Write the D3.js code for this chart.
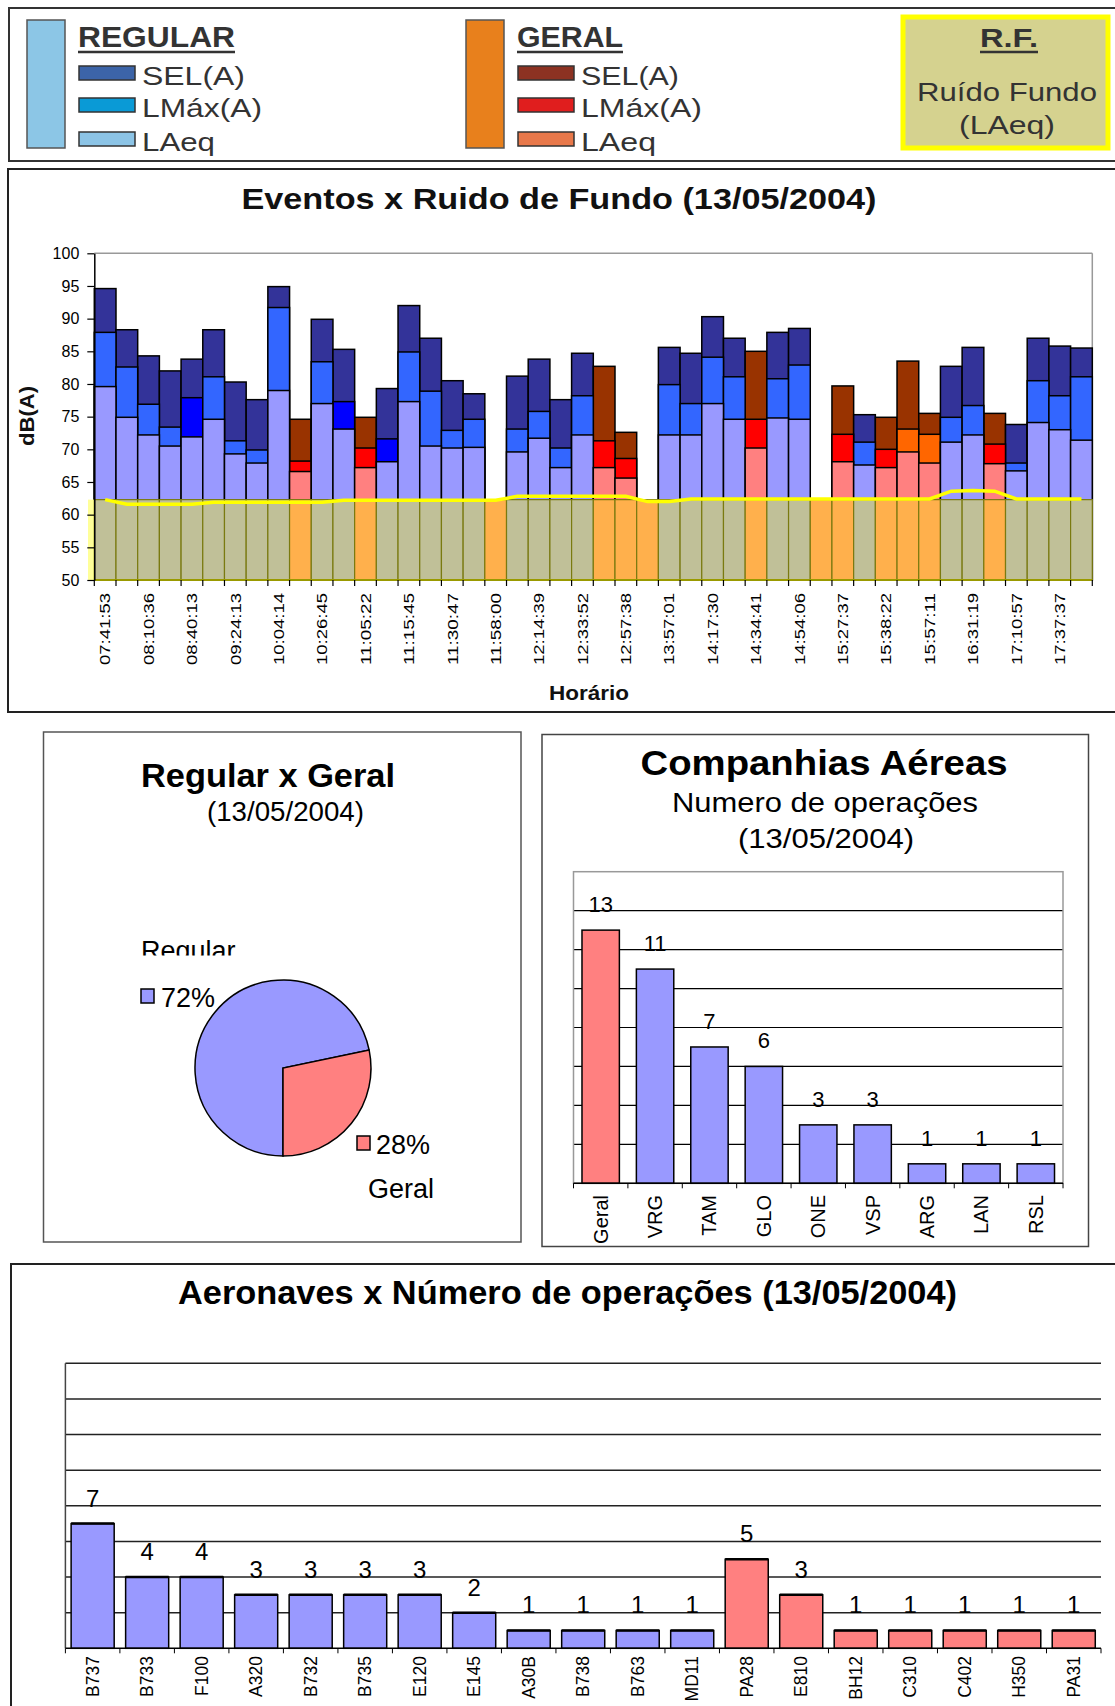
<!DOCTYPE html>
<html><head><meta charset="utf-8">
<script src="https://cdn.jsdelivr.net/npm/d3@7"></script>
<style>body{margin:0;background:#fff}svg{display:block}text{font-family:"Liberation Sans",Arial,Helvetica,sans-serif}</style>
</head><body><svg id="c" width="1115" height="1706"></svg>
<script>
// ---------- DATA ----------
// tick labels (shown on every other event)
const horarios = ["07:41:53","08:10:36","08:40:13","09:24:13","10:04:14","10:26:45","11:05:22","11:15:45","11:30:47","11:58:00","12:14:39","12:33:52","12:57:38","13:57:01","14:17:30","14:34:41","14:54:06","15:27:37","15:38:22","15:57:11","16:31:19","17:10:57","17:37:37"];
// event type: R regular, R2 regular (alt LMax), G geral, G2 geral (alt LMax), X geral without measurement
const tipoEvento = ["R","R","R","R","R2","R","R","R","R","G","R","R2","G","R2","R","R","R","R","X","R","R","R","R","G","G","X","R","R","R","R","G","R","R","X","G","R","G","G2","G2","R","R","G","R","R","R","R"];
const selA  = [94.6,88.3,84.3,82.0,83.8,88.3,80.3,77.6,94.9,74.6,89.9,85.3,74.9,79.3,92.0,87.0,80.5,78.5,null,81.2,83.8,77.6,84.7,82.7,72.6,null,85.6,84.7,90.3,87.0,85.0,87.9,88.5,null,79.7,75.3,74.9,83.5,75.5,82.7,85.6,75.5,73.8,87.0,85.8,85.5];
const lmaxA = [87.9,82.6,76.9,73.4,77.9,81.1,71.3,69.9,91.7,68.2,83.4,77.3,70.2,71.6,84.9,78.9,72.9,74.6,null,73.1,75.8,70.2,78.2,71.3,68.6,null,79.9,77.0,84.1,81.1,74.6,80.8,82.9,null,72.3,71.1,70.0,73.1,72.3,74.9,76.7,70.8,67.9,80.5,78.2,81.1];
const laeqA = [79.6,74.9,72.2,70.5,71.9,74.6,69.3,67.9,79.0,66.6,77.0,73.1,67.2,68.1,77.3,70.5,70.2,70.3,null,69.6,71.7,67.2,72.2,67.2,65.6,null,72.2,72.2,77.0,74.6,70.2,74.8,74.6,null,68.1,67.6,67.2,69.6,67.9,71.1,72.2,67.8,66.7,74.1,73.0,71.4];
const ruidoFundo = [62.3,61.6,61.6,61.6,61.6,61.9,61.9,61.9,61.9,61.9,61.9,62.2,62.2,62.2,62.2,62.2,62.2,62.2,62.2,62.8,62.8,62.8,62.8,62.8,62.8,62.0,62.0,62.4,62.4,62.4,62.4,62.4,62.4,62.4,62.4,62.4,62.4,62.4,62.4,63.6,63.7,63.6,62.4,62.4,62.4,62.4];
const nivelFundoArea = 62.3;
const yTicksEventos = [50,55,60,65,70,75,80,85,90,95,100];

const pieCats = ["Regular","Geral"];
const pieVals = [33,13];
const pieLabels = ["72%","28%"];

const companhias = ["Geral","VRG","TAM","GLO","ONE","VSP","ARG","LAN","RSL"];
const companhiasOps = [13,11,7,6,3,3,1,1,1];
const companhiasTipo = ["G","R","R","R","R","R","R","R","R"];

const aeronaves = ["B737","B733","F100","A320","B732","B735","E120","E145","A30B","B738","B763","MD11","PA28","E810","BH12","C310","C402","H350","PA31"];
const aeronavesOps = [7,4,4,3,3,3,3,2,1,1,1,1,5,3,1,1,1,1,1];
const aeronavesTipo = ["R","R","R","R","R","R","R","R","R","R","R","R","G","G","G","G","G","G","G"];
const opsTicks = [0,2,4,6,8,10,12,14,16];

const legRegular = ["SEL(A)","LMáx(A)","LAeq"];
const legGeral = ["SEL(A)","LMáx(A)","LAeq"];

// ---------- HELPERS ----------
const svg = d3.select("#c");
function txt(g, s, x, y, o = {}) {
  const t = g.append("text").attr("x", x).attr("y", y).text(s)
    .attr("font-size", o.size || 16).attr("font-weight", o.bold ? "bold" : "normal")
    .attr("text-anchor", o.anchor || "start").attr("fill", o.fill || "#000");
  if (o.len) t.attr("textLength", o.len).attr("lengthAdjust", "spacingAndGlyphs");
  if (o.rot) t.attr("transform", `rotate(${o.rot},${x},${y})`);
  return t;
}
function box(x, y, w, h, stroke, sw) {
  svg.append("rect").attr("x", x).attr("y", y).attr("width", w).attr("height", h)
    .attr("fill", "none").attr("stroke", stroke).attr("stroke-width", sw);
}

// ---------- LEGEND ----------
const leg = svg.append("g");
box(9, 8, 1120, 153, "#333", 2);
const legColR = d3.scaleOrdinal().domain(legRegular.map((d, i) => i)).range(["#3c64a8", "#0a9ad6", "#8cc4e6"]);
const legColG = d3.scaleOrdinal().domain(legGeral.map((d, i) => i)).range(["#8c3222", "#e01e1e", "#e8784a"]);
const legY = [66, 98, 132];
function legendBlock(x0, title, titleLen, big, items, col, lens) {
  leg.append("rect").attr("x", x0 - 51).attr("y", 20).attr("width", 38).attr("height", 128)
    .attr("fill", big).attr("stroke", "#555").attr("stroke-width", 1.5);
  txt(leg, title, x0, 47, { size: 30, bold: true, len: titleLen, fill: "#333" });
  leg.append("line").attr("x1", x0).attr("x2", x0 + titleLen).attr("y1", 52).attr("y2", 52)
    .attr("stroke", "#333").attr("stroke-width", 2.5);
  items.forEach((s, i) => {
    leg.append("rect").attr("x", x0 + 1).attr("y", legY[i]).attr("width", 56).attr("height", 14)
      .attr("fill", col(i)).attr("stroke", "#333").attr("stroke-width", 1.5);
    txt(leg, s, x0 + 64, legY[i] + 19, { size: 26, len: lens[i], fill: "#333" });
  });
}
legendBlock(78, "REGULAR", 157, "#8cc6e6", legRegular, legColR, [103, 120, 73]);
legendBlock(517, "GERAL", 106, "#e8801c", legGeral, legColG, [98, 121, 75]);
leg.append("rect").attr("x", 903).attr("y", 17).attr("width", 205).attr("height", 131)
  .attr("fill", "#d5d28f").attr("stroke", "#ffff00").attr("stroke-width", 5);
txt(leg, "R.F.", 1009, 47, { size: 26, bold: true, anchor: "middle", len: 58, fill: "#333" });
leg.append("line").attr("x1", 980).attr("x2", 1038).attr("y1", 52).attr("y2", 52).attr("stroke", "#333").attr("stroke-width", 2.5);
txt(leg, "Ruído Fundo", 1007, 101, { size: 26, anchor: "middle", len: 180, fill: "#333" });
txt(leg, "(LAeq)", 1007, 134, { size: 26, anchor: "middle", len: 96, fill: "#333" });

// ---------- MAIN CHART ----------
box(8, 169, 1120, 543, "#222", 2);
const gm = svg.append("g");
txt(gm, "Eventos x Ruido de Fundo (13/05/2004)", 559, 209, { size: 30, bold: true, anchor: "middle", len: 635, fill: "#111" });
const xM = d3.scaleBand().domain(d3.range(tipoEvento.length)).range([94.3, 1092.3]).padding(0);
const yM = d3.scaleLinear().domain([50, 100]).range([580, 253.3]);
const isReg = t => t === "R" || t === "R2";
const colSEL = t => isReg(t) ? "#333399" : "#993300";
const colLMax = d3.scaleOrdinal().domain(["R", "R2", "G", "G2"]).range(["#3366ff", "#0000ff", "#ff0000", "#ff6600"]);
const colLAeq = t => isReg(t) ? "#9999ff" : "#ff8080";
const colBg = t => isReg(t) ? "#c0c098" : "#ffb04c";

// plot frame (top/right gray)
gm.append("line").attr("x1", 94.3).attr("x2", 1092.3).attr("y1", yM(100)).attr("y2", yM(100)).attr("stroke", "#999").attr("stroke-width", 1.5);
gm.append("line").attr("x1", 1092.3).attr("x2", 1092.3).attr("y1", yM(100)).attr("y2", yM(50)).attr("stroke", "#999").attr("stroke-width", 1.5);

const ev = d3.range(tipoEvento.length).filter(i => selA[i] != null);
[[selA, colSEL], [lmaxA, t => colLMax(t)], [laeqA, colLAeq]].forEach(([arr, cf]) => {
  gm.append("g").selectAll("rect").data(ev).join("rect")
    .attr("x", i => xM(i)).attr("width", xM.bandwidth())
    .attr("y", i => yM(arr[i])).attr("height", i => yM(50) - yM(arr[i]))
    .attr("fill", i => cf(tipoEvento[i])).attr("stroke", "#000").attr("stroke-width", 1.5);
});
// background noise area
gm.append("rect").attr("x", 88).attr("width", 6.3).attr("y", yM(nivelFundoArea)).attr("height", yM(50) - yM(nivelFundoArea)).attr("fill", "#ffff99");
gm.append("g").selectAll("rect").data(d3.range(tipoEvento.length)).join("rect")
  .attr("x", i => xM(i)).attr("width", xM.bandwidth())
  .attr("y", yM(nivelFundoArea)).attr("height", yM(50) - yM(nivelFundoArea))
  .attr("fill", i => colBg(tipoEvento[i])).attr("stroke", "#7a7a10").attr("stroke-width", 1.2);
gm.append("line").attr("x1", 94.3).attr("x2", 1092.3).attr("y1", yM(50)).attr("y2", yM(50)).attr("stroke", "#9a9a00").attr("stroke-width", 2);
// R.F. line
gm.append("path").datum(ruidoFundo)
  .attr("d", d3.line().x((d, i) => xM(i) + xM.bandwidth() / 2).y(d => yM(d)))
  .attr("fill", "none").attr("stroke", "#ffff00").attr("stroke-width", 3.5);
// y axis
const ay = gm.append("g").attr("transform", "translate(94.3,0)")
  .call(d3.axisLeft(yM).tickValues(yTicksEventos).tickSize(7).tickPadding(8).tickSizeOuter(0));
ay.select(".domain").attr("stroke", "#000").attr("stroke-width", 1.5);
ay.selectAll(".tick line").attr("stroke", "#000").attr("stroke-width", 1.2);
ay.selectAll(".tick text").attr("font-size", 16).attr("fill", "#000").attr("font-family", '"Liberation Sans",Arial,sans-serif');
// x ticks
gm.append("g").selectAll("line").data(d3.range(tipoEvento.length + 1)).join("line")
  .attr("x1", i => 94.3 + i * xM.step()).attr("x2", i => 94.3 + i * xM.step())
  .attr("y1", 580).attr("y2", 586).attr("stroke", "#000").attr("stroke-width", 1.2);
horarios.forEach((h, j) => {
  const xc = xM(j * 2) + xM.bandwidth() / 2;
  txt(gm, h, xc, 593, { size: 15, anchor: "end", len: 72, rot: -90 }).attr("dy", "0.35em");
});
txt(gm, "Horário", 589, 700, { size: 21, bold: true, anchor: "middle", len: 80, fill: "#111" });
txt(gm, "dB(A)", 34, 416, { size: 20, bold: true, anchor: "middle", len: 60, rot: -90, fill: "#111" });

// ---------- PIE ----------
box(43.5, 732, 477.5, 510, "#555", 1.5);
const gp = svg.append("g");
txt(gp, "Regular x Geral", 268, 787, { size: 34, bold: true, anchor: "middle", len: 254 });
txt(gp, "(13/05/2004)", 285.5, 821, { size: 27, anchor: "middle", len: 157 });
const pieCol = d3.scaleOrdinal().domain(pieCats).range(["#9999ff", "#ff8080"]);
const arcs = d3.pie().sort(null).startAngle(Math.PI).endAngle(3 * Math.PI)(pieVals);
gp.append("g").attr("transform", "translate(283,1068)").selectAll("path").data(arcs).join("path")
  .attr("d", d3.arc().innerRadius(0).outerRadius(88))
  .attr("fill", (d, i) => pieCol(pieCats[i])).attr("stroke", "#000").attr("stroke-width", 1.5);
svg.append("clipPath").attr("id", "clipReg").append("rect").attr("x", 100).attr("y", 900).attr("width", 300).attr("height", 55.5);
txt(gp, pieCats[0], 141, 959.5, { size: 27 }).attr("clip-path", "url(#clipReg)");
gp.append("rect").attr("x", 141).attr("y", 989).attr("width", 13).attr("height", 14).attr("fill", pieCol(pieCats[0])).attr("stroke", "#000").attr("stroke-width", 1.5);
txt(gp, pieLabels[0], 161, 1007, { size: 27 });
gp.append("rect").attr("x", 357).attr("y", 1136).attr("width", 13).attr("height", 14).attr("fill", pieCol(pieCats[1])).attr("stroke", "#000").attr("stroke-width", 1.5);
txt(gp, pieLabels[1], 376, 1154, { size: 27 });
txt(gp, pieCats[1], 368, 1198, { size: 27 });

// ---------- COMPANHIAS ----------
box(542, 734.5, 546.5, 512, "#444", 1.5);
const gc = svg.append("g");
txt(gc, "Companhias Aéreas", 824, 775, { size: 35, bold: true, anchor: "middle", len: 367 });
txt(gc, "Numero de operações", 825, 811.7, { size: 28, anchor: "middle", len: 306 });
txt(gc, "(13/05/2004)", 826, 848, { size: 28, anchor: "middle", len: 176 });
const xC = d3.scaleBand().domain(companhias).range([573.5, 1063]).paddingInner(0.3125).paddingOuter(0.156);
const yC = d3.scaleLinear().domain([0, 16]).range([1183.3, 871.7]);
gc.append("g").selectAll("line").data(opsTicks.filter(v => v > 0 && v < 16)).join("line")
  .attr("x1", 573.5).attr("x2", 1063).attr("y1", d => yC(d)).attr("y2", d => yC(d)).attr("stroke", "#000").attr("stroke-width", 1.2);
gc.append("rect").attr("x", 573.5).attr("y", yC(16)).attr("width", 1063 - 573.5).attr("height", yC(0) - yC(16)).attr("fill", "none").attr("stroke", "#999").attr("stroke-width", 1.5);
gc.append("g").selectAll("rect").data(companhias).join("rect")
  .attr("x", d => xC(d)).attr("width", xC.bandwidth())
  .attr("y", (d, i) => yC(companhiasOps[i])).attr("height", (d, i) => yC(0) - yC(companhiasOps[i]))
  .attr("fill", (d, i) => companhiasTipo[i] === "G" ? "#ff8080" : "#9999ff").attr("stroke", "#000").attr("stroke-width", 1.5);
gc.append("line").attr("x1", 573.5).attr("x2", 1063).attr("y1", yC(0)).attr("y2", yC(0)).attr("stroke", "#000").attr("stroke-width", 1.5);
gc.append("g").selectAll("line").data(d3.range(companhias.length + 1)).join("line")
  .attr("x1", i => 573.5 + i * xC.step()).attr("x2", i => 573.5 + i * xC.step())
  .attr("y1", yC(0)).attr("y2", yC(0) + 5).attr("stroke", "#000");
companhias.forEach((c, i) => {
  const xc = xC(c) + xC.bandwidth() / 2;
  txt(gc, String(companhiasOps[i]), xc, yC(companhiasOps[i]) - 18, { size: 22, anchor: "middle" });
  txt(gc, c, xc, 1195, { size: 20, anchor: "end", rot: -90 }).attr("dy", "0.35em");
});

// ---------- AERONAVES ----------
box(11, 1264, 1120, 460, "#222", 2);
const ga = svg.append("g");
txt(ga, "Aeronaves x Número de operações (13/05/2004)", 567.5, 1304, { size: 34, bold: true, anchor: "middle", len: 779 });
const xA = d3.scaleBand().domain(aeronaves).range([65.4, 1101]).paddingInner(0.21).paddingOuter(0.105);
const yA = d3.scaleLinear().domain([0, 16]).range([1648.3, 1363.3]);
ga.append("g").selectAll("line").data(opsTicks.filter(v => v > 0)).join("line")
  .attr("x1", 65.4).attr("x2", 1101).attr("y1", d => yA(d)).attr("y2", d => yA(d)).attr("stroke", "#222").attr("stroke-width", 1.5);
ga.append("line").attr("x1", 65.4).attr("x2", 65.4).attr("y1", yA(16)).attr("y2", yA(0)).attr("stroke", "#444").attr("stroke-width", 1.5);
ga.append("g").selectAll("rect").data(aeronaves).join("rect")
  .attr("x", d => xA(d)).attr("width", xA.bandwidth())
  .attr("y", (d, i) => yA(aeronavesOps[i])).attr("height", (d, i) => yA(0) - yA(aeronavesOps[i]))
  .attr("fill", (d, i) => aeronavesTipo[i] === "G" ? "#ff8080" : "#9999ff").attr("stroke", "#000").attr("stroke-width", 1.5);
ga.append("g").selectAll("line.top").data(aeronaves).join("line")
  .attr("x1", d => xA(d)).attr("x2", d => xA(d) + xA.bandwidth())
  .attr("y1", (d, i) => yA(aeronavesOps[i])).attr("y2", (d, i) => yA(aeronavesOps[i])).attr("stroke", "#000").attr("stroke-width", 2.5);
ga.append("line").attr("x1", 65.4).attr("x2", 1101).attr("y1", yA(0)).attr("y2", yA(0)).attr("stroke", "#000").attr("stroke-width", 1.5);
ga.append("g").selectAll("line.tk").data(d3.range(aeronaves.length + 1)).join("line")
  .attr("x1", i => 65.4 + i * xA.step()).attr("x2", i => 65.4 + i * xA.step())
  .attr("y1", yA(0)).attr("y2", yA(0) + 5).attr("stroke", "#000");
aeronaves.forEach((c, i) => {
  const xc = xA(c) + xA.bandwidth() / 2;
  txt(ga, String(aeronavesOps[i]), xc, yA(aeronavesOps[i]) - 17, { size: 24, anchor: "middle" });
  txt(ga, c, xc, 1656, { size: 17.5, anchor: "end", rot: -90 }).attr("dy", "0.35em");
});
</script></body></html>
